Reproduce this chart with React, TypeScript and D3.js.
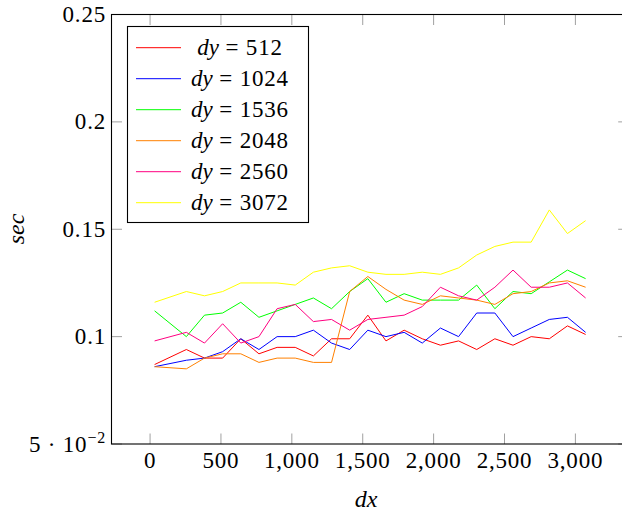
import React from "react";
import * as d3 from "d3";

const dxValues = [32, 256, 384, 512, 640, 768, 896, 1024, 1152, 1280, 1408, 1536, 1664, 1792, 1920, 2048, 2176, 2304, 2432, 2560, 2688, 2816, 2944, 3072];

const dy512 = [0.087, 0.094, 0.090, 0.090, 0.099, 0.092, 0.095, 0.095, 0.091, 0.099, 0.099, 0.110, 0.098, 0.103, 0.099, 0.096, 0.098, 0.094, 0.099, 0.096, 0.100, 0.099, 0.105, 0.101];
const dy1024 = [0.086, 0.089, 0.090, 0.093, 0.099, 0.094, 0.100, 0.100, 0.103, 0.097, 0.094, 0.103, 0.100, 0.102, 0.097, 0.104, 0.100, 0.111, 0.111, 0.100, 0.104, 0.108, 0.109, 0.102];
const dy1536 = [0.112, 0.100, 0.110, 0.111, 0.116, 0.109, 0.112, 0.115, 0.118, 0.113, 0.121, 0.127, 0.116, 0.120, 0.117, 0.117, 0.117, 0.124, 0.113, 0.121, 0.120, 0.1255, 0.131, 0.127];
const dy2048 = [0.086, 0.085, 0.090, 0.092, 0.092, 0.088, 0.090, 0.090, 0.088, 0.088, 0.121, 0.128, 0.122, 0.117, 0.115, 0.119, 0.118, 0.117, 0.115, 0.120, 0.121, 0.125, 0.126, 0.123];
const dy2560 = [0.098, 0.102, 0.097, 0.106, 0.097, 0.100, 0.113, 0.115, 0.107, 0.108, 0.103, 0.108, 0.109, 0.110, 0.114, 0.123, 0.119, 0.117, 0.123, 0.131, 0.123, 0.123, 0.125, 0.118];
const dy3072 = [0.116, 0.121, 0.119, 0.121, 0.125, 0.125, 0.125, 0.124, 0.130, 0.132, 0.133, 0.130, 0.129, 0.129, 0.130, 0.129, 0.132, 0.138, 0.142, 0.144, 0.144, 0.159, 0.148, 0.154];

const seriesLabels = ["512", "1024", "1536", "2048", "2560", "3072"];
const seriesValues = [dy512, dy1024, dy1536, dy2048, dy2560, dy3072];
const seriesColors = ["#ff0000", "#0000ff", "#00ff00", "#ff8000", "#ff0080", "#ffff00"];

const xTicks = [0, 500, 1000, 1500, 2000, 2500, 3000];
const xTickLabels = ["0", "500", "1,000", "1,500", "2,000", "2,500", "3,000"];
const yTicks = [0.05, 0.1, 0.15, 0.2, 0.25];
const yTickLabels = ["5e-2", "0.1", "0.15", "0.2", "0.25"];

const FONT = "'Liberation Serif', 'Times New Roman', serif";

export default function App() {
  const left = 111.5, right = 628.7, top = 14.5, bottom = 444;
  const x = d3.scaleLinear().domain([-272, 3376]).range([left, right]);
  const y = d3.scaleLinear().domain([0.05, 0.25]).range([bottom, top]);
  const line = d3.line<number>()
    .x((_, i) => x(dxValues[i]))
    .y((d) => y(d));
  const tickLen = 10.5;
  const fs = 23;
  const ls = 0.8;

  const legendX = 127.5, legendY = 26.5, legendW = 181, legendH = 196;
  const rowY0 = 47.7, rowStep = 31;

  return (
    <svg width={622} height={519} style={{ position: "absolute", left: 0, top: 0, background: "#fff" }}
      fontFamily={FONT}>
      <rect x={0} y={0} width={622} height={519} fill="#fff" />
      {xTicks.map((t) => (
        <g key={"xt" + t} stroke="#a0a0a0" strokeWidth={1}>
          <line x1={x(t)} x2={x(t)} y1={bottom} y2={bottom - tickLen} />
          <line x1={x(t)} x2={x(t)} y1={top} y2={top + tickLen} />
        </g>
      ))}
      {yTicks.map((t) => (
        <g key={"yt" + t} stroke="#a0a0a0" strokeWidth={1}>
          <line x1={left} x2={left + tickLen} y1={y(t)} y2={y(t)} />
          <line x1={right} x2={right - tickLen} y1={y(t)} y2={y(t)} />
        </g>
      ))}
      <g clipPath="url(#clip)">
        {seriesValues.map((vals, i) => (
          <path key={"s" + i} d={line(vals) || ""} fill="none" stroke={seriesColors[i]} strokeWidth={1} strokeLinejoin="round" />
        ))}
      </g>
      <rect x={left} y={top} width={right - left} height={bottom - top} fill="none" stroke="#000" strokeWidth={1.1} />
      {xTicks.map((t, i) => (
        <text key={"xl" + t} x={x(t)} y={468} textAnchor="middle" fontSize={fs} letterSpacing={ls} fill="#000">{xTickLabels[i]}</text>
      ))}
      {yTicks.map((t, i) => (
        yTickLabels[i] === "5e-2" ? (
          <text key={"yl" + t} x={106} y={y(t) + 7.5} textAnchor="end" fontSize={fs} letterSpacing={ls} fill="#000">
            5 · 10<tspan fontSize={16} dy={-9}>−2</tspan>
          </text>
        ) : (
          <text key={"yl" + t} x={106} y={y(t) + 7.5} textAnchor="end" fontSize={fs} letterSpacing={ls} fill="#000">{yTickLabels[i]}</text>
        )
      ))}
      <text x={366} y={507} textAnchor="middle" fontSize={fs + 1} fontStyle="italic" fill="#000">dx</text>
      <text transform="translate(24,229) rotate(-90)" textAnchor="middle" fontSize={fs + 1} fontStyle="italic" fill="#000">sec</text>
      <rect x={legendX} y={legendY} width={legendW} height={legendH} fill="#fff" stroke="#000" strokeWidth={1.1} />
      {seriesLabels.map((lab, i) => {
        const ry = rowY0 + i * rowStep;
        return (
          <g key={"lg" + i}>
            <line x1={136} x2={181} y1={ry} y2={ry} stroke={seriesColors[i]} strokeWidth={1} />
            <text x={240} y={ry + 7.5} textAnchor="middle" fontSize={fs} fill="#000" style={{ whiteSpace: "pre" }}>
              <tspan fontStyle="italic">dy</tspan><tspan letterSpacing={ls}>{" = " + lab}</tspan>
            </text>
          </g>
        );
      })}
      <defs>
        <clipPath id="clip">
          <rect x={left} y={top} width={right - left} height={bottom - top} />
        </clipPath>
      </defs>
    </svg>
  );
}
